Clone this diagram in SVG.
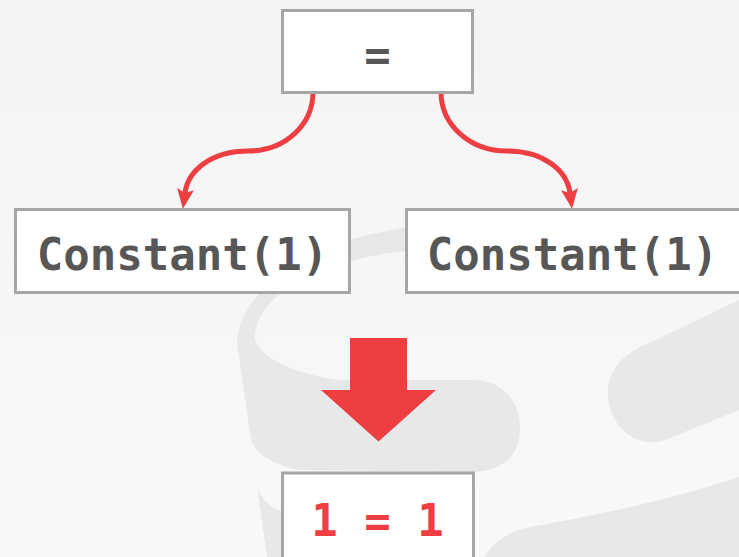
<svg xmlns="http://www.w3.org/2000/svg" width="739" height="557" viewBox="0 0 739 557">
<defs>
<linearGradient id="bg" x1="0" y1="0" x2="0" y2="1">
<stop offset="0" stop-color="#f4f4f4"/>
<stop offset="1" stop-color="#f9f9f9"/>
</linearGradient>
<marker id="ah" markerUnits="userSpaceOnUse" markerWidth="22" markerHeight="18" refX="4" refY="8.5" orient="auto">
<path d="M0,0 L20,8.5 L0,17 L4,8.5 Z" fill="#ee3e42"/>
</marker>
<style>
.box{fill:#ffffff;stroke:#a6a6a6;stroke-width:3}
.wm{fill:#e8e8e8}
.code{font-family:"DejaVu Sans Mono","Liberation Mono",monospace;font-weight:bold;font-size:44px;text-anchor:middle}
.dark{fill:#575757}
.red{fill:#ee3e42}
.conn{fill:none;stroke:#ee3e42;stroke-width:5}
</style>
</defs>
<rect width="739" height="557" fill="url(#bg)"/>
<g id="watermark">
<path class="wm" d="M237 343 C237 300 290 258 349 240 C420 220 520 212 600 220 L600 285 C540 270 460 248 405 251 C380 254 360 258 349 262 C300 276 255 300 255 340 C262 360 300 375 340 380 L473 380 C505 380 522 405 520 432 C518 460 498 472 470 472 L300 470 C270 465 252 452 250 433 Z"/>
<path class="wm" d="M257 487 C262 500 270 508 285 512 L285 557 L267 557 Z"/>
<path class="wm" d="M739 477 C680 497 600 515 530 527 C505 532 490 545 485 557 L739 557 Z"/>
<path class="wm" d="M739 300 L645 345 C620 355 606 375 608 397 C610 425 635 450 665 440 L739 410 Z"/>
</g>
<g id="connectors">
<path class="conn" d="M313 92 C313 125 285 151 248 151 C212 151 188 170 185 193" marker-end="url(#ah)"/>
<path class="conn" d="M441 92 C441 125 470 151 507 151 C543 151 567 170 570 193" marker-end="url(#ah)"/>
<polygon class="red" points="350,338 407,338 407,390 436,390 378.5,441.5 321,390 350,390"/>
</g>
<g id="node-eq">
<rect class="box" x="282.5" y="10.5" width="190" height="82"/>
<text class="code dark" x="377.5" y="70">=</text>
</g>
<g id="node-left">
<rect class="box" x="15.5" y="209.5" width="334" height="83"/>
<text class="code dark" x="182.5" y="270">Constant(1)</text>
</g>
<g id="node-right">
<rect class="box" x="406.5" y="209.5" width="340" height="83"/>
<text class="code dark" x="572.5" y="270">Constant(1)</text>
</g>
<g id="node-result">
<rect class="box" x="282.5" y="473" width="191" height="100"/>
<text class="code red" x="377.5" y="536">1 = 1</text>
</g>
</svg>
